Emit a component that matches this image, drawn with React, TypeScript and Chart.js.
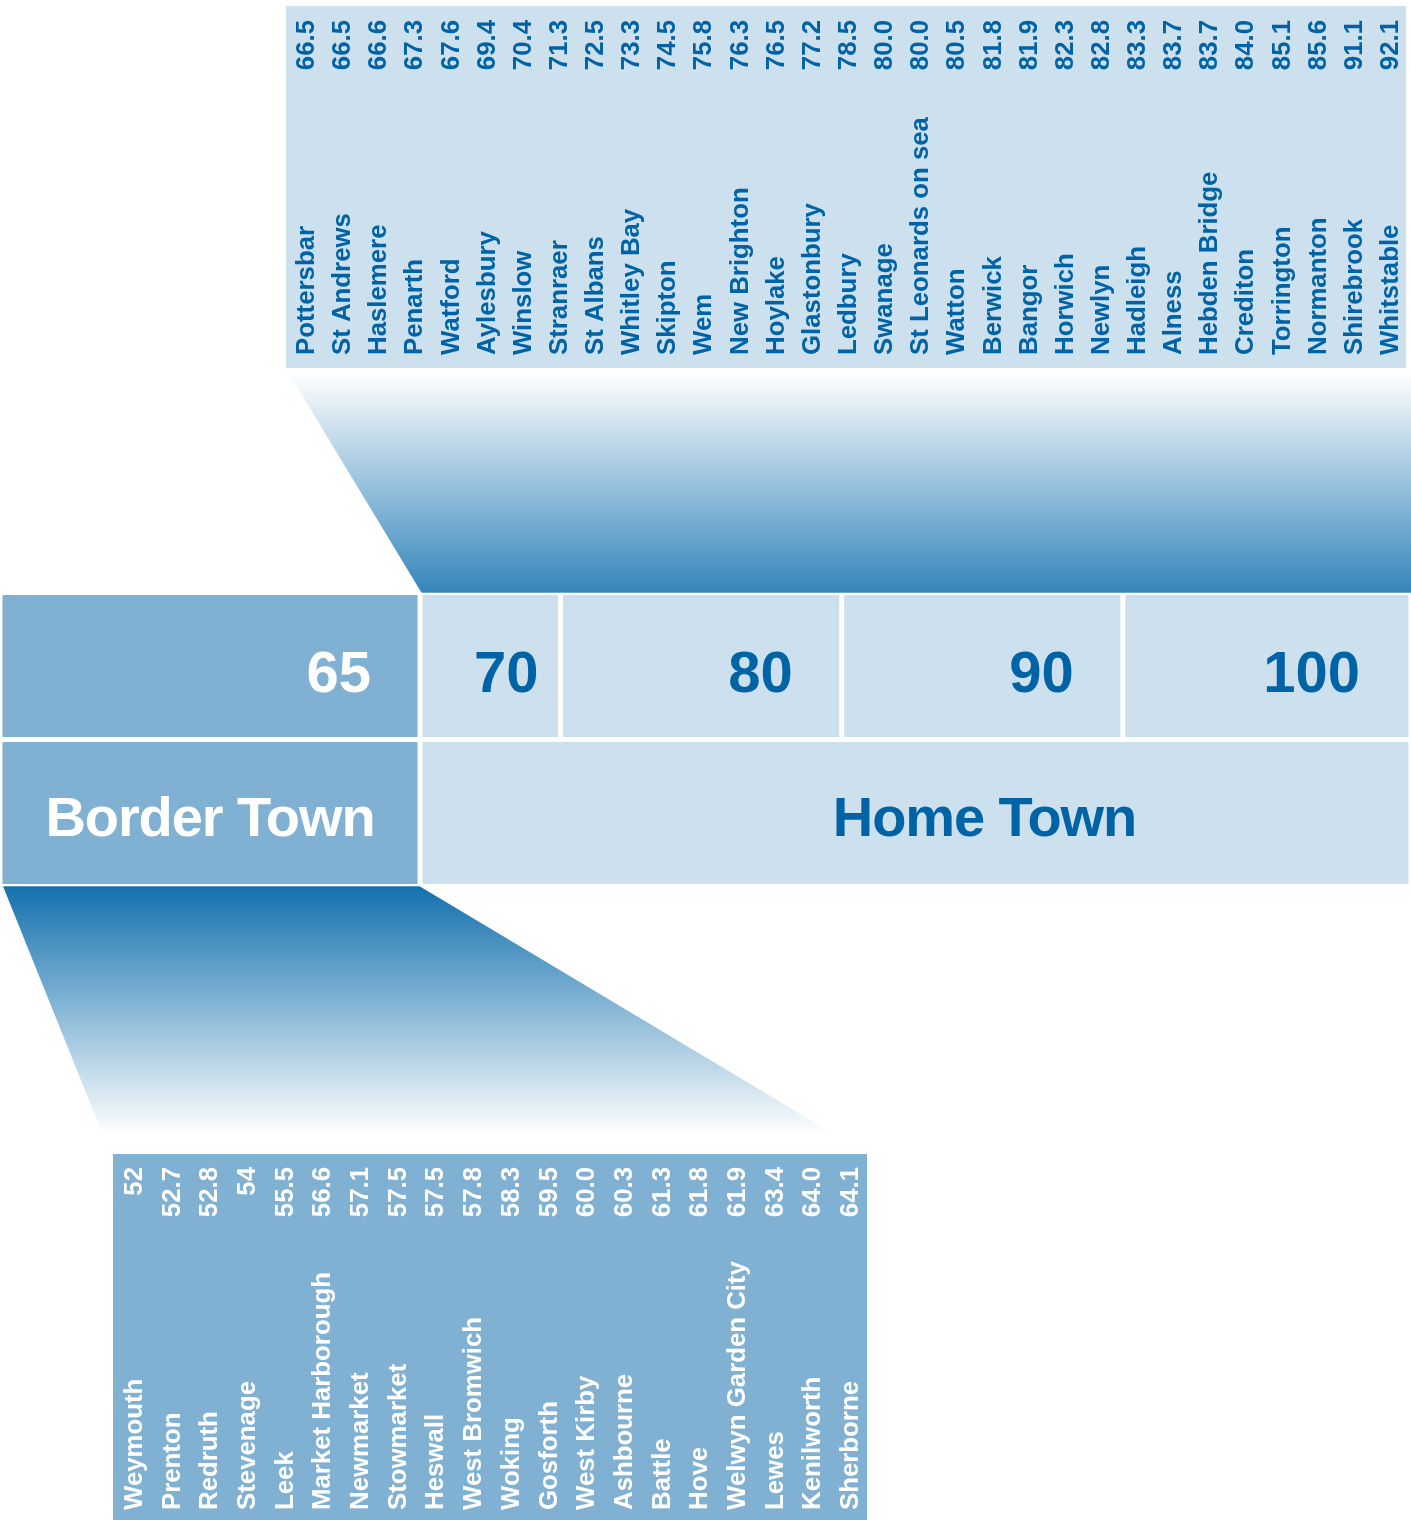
import { useEffect, useRef } from "react";
import { Chart, registerables } from "chart.js";

Chart.register(...registerables);

// Home Town side: towns above the 65 line, in ascending order
const homeTowns = [
  "Pottersbar", "St Andrews", "Haslemere", "Penarth", "Watford", "Aylesbury",
  "Winslow", "Stranraer", "St Albans", "Whitley Bay", "Skipton", "Wem",
  "New Brighton", "Hoylake", "Glastonbury", "Ledbury", "Swanage",
  "St Leonards on sea", "Watton", "Berwick", "Bangor", "Horwich", "Newlyn",
  "Hadleigh", "Alness", "Hebden Bridge", "Crediton", "Torrington",
  "Normanton", "Shirebrook", "Whitstable",
];
const homeValueLabels = [
  "66.5", "66.5", "66.6", "67.3", "67.6", "69.4", "70.4", "71.3", "72.5",
  "73.3", "74.5", "75.8", "76.3", "76.5", "77.2", "78.5", "80.0", "80.0",
  "80.5", "81.8", "81.9", "82.3", "82.8", "83.3", "83.7", "83.7", "84.0",
  "85.1", "85.6", "91.1", "92.1",
];

// Border Town side: towns below the 65 line
const borderTowns = [
  "Weymouth", "Prenton", "Redruth", "Stevenage", "Leek", "Market Harborough",
  "Newmarket", "Stowmarket", "Heswall", "West Bromwich", "Woking", "Gosforth",
  "West Kirby", "Ashbourne", "Battle", "Hove", "Welwyn Garden City", "Lewes",
  "Kenilworth", "Sherborne",
];
const borderValueLabels = [
  "52", "52.7", "52.8", "54", "55.5", "56.6", "57.1", "57.5", "57.5", "57.8",
  "58.3", "59.5", "60.0", "60.3", "61.3", "61.8", "61.9", "63.4", "64.0", "64.1",
];

// Scale band
const scaleTicks = [65, 70, 80, 90, 100];
const scaleMin = 50.06;
const scaleMax = 100.25;
const borderLimit = 65;
const groups = ["Border Town", "Home Town"];

const FONT = '"Liberation Sans", Arial, Helvetica, sans-serif';
const DARK = "#0063a6";
const LIGHT = "#cde0ed";
const MID = "#80b1d3";

// label placement inside the band (pixels)
const tickLabelInset = [49, 22, 49, 49, 44];
const captionShift = [0, 69];

function makeTable(
  canvas: HTMLCanvasElement,
  towns: string[],
  valueLabels: string[],
  bg: string,
  fg: string,
  nameY: number,
  valueY: number
) {
  return new Chart(canvas, {
    type: "bar",
    data: {
      labels: towns,
      datasets: [
        {
          data: valueLabels.map(Number),
          backgroundColor: "rgba(0,0,0,0)",
          borderWidth: 0,
        },
      ],
    },
    options: {
      responsive: false,
      animation: false,
      devicePixelRatio: 1,
      events: [],
      layout: { padding: 0 },
      plugins: { legend: { display: false }, tooltip: { enabled: false } },
      scales: {
        x: { type: "category", offset: true, display: false },
        y: { display: false, min: 0, max: 100 },
      },
    },
    plugins: [
      {
        id: "townTable",
        beforeDraw(chart: any) {
          const { ctx, width, height } = chart;
          ctx.save();
          ctx.fillStyle = bg;
          ctx.fillRect(0, 0, width, height);
          ctx.restore();
        },
        afterDatasetsDraw(chart: any) {
          const { ctx } = chart;
          const xs = chart.scales.x;
          ctx.save();
          ctx.font = `bold 25.8px ${FONT}`;
          ctx.fillStyle = fg;
          ctx.textBaseline = "alphabetic";
          towns.forEach((name, i) => {
            const bx = xs.getPixelForValue(i) + 10;
            ctx.save();
            ctx.translate(bx, nameY);
            ctx.rotate(-Math.PI / 2);
            ctx.textAlign = "left";
            ctx.fillText(name, 0, 0);
            ctx.restore();
            ctx.save();
            ctx.translate(bx, valueY);
            ctx.rotate(-Math.PI / 2);
            ctx.textAlign = "right";
            ctx.fillText(valueLabels[i], 0, 0);
            ctx.restore();
          });
          ctx.restore();
        },
      },
    ],
  } as any);
}

function makeBand(canvas: HTMLCanvasElement) {
  const segments = scaleTicks.map((t, i) => [
    i === 0 ? scaleMin : scaleTicks[i - 1],
    i === scaleTicks.length - 1 ? scaleMax : t,
  ]);
  const points = [
    ...segments.map((r) => ({ x: r, y: "scale" })),
    { x: [scaleMin, borderLimit], y: "town" },
    { x: [borderLimit, scaleMax], y: "town" },
  ];
  const colors = [
    ...segments.map((r) => (r[1] <= borderLimit ? MID : LIGHT)),
    MID,
    LIGHT,
  ];

  return new Chart(canvas, {
    type: "bar",
    data: {
      datasets: [
        {
          data: points,
          backgroundColor: colors,
          borderColor: "#ffffff",
          borderWidth: 2.8,
          borderSkipped: false,
          barPercentage: 1,
          categoryPercentage: 1,
        },
      ],
    },
    options: {
      indexAxis: "y",
      responsive: false,
      animation: false,
      devicePixelRatio: 1,
      events: [],
      layout: { padding: { top: 224.5, bottom: 266.5, left: 0, right: 0 } },
      plugins: { legend: { display: false }, tooltip: { enabled: false } },
      scales: {
        x: { type: "linear", min: scaleMin, max: scaleMax, display: false },
        y: { type: "category", labels: ["scale", "town"], offset: true, display: false },
      },
    },
    plugins: [
      {
        id: "funnels",
        beforeDatasetsDraw(chart: any) {
          const { ctx, chartArea: a } = chart;
          const xs = chart.scales.x;
          const right = chart.width;

          // upper funnel: from the Home Town table down to the 65+ band
          const topY = 4;
          const botY = a.top + 1;
          const g1 = ctx.createLinearGradient(0, topY, 0, botY);
          g1.addColorStop(0, "#ffffff");
          g1.addColorStop(1, "#3485bb");
          ctx.save();
          ctx.fillStyle = g1;
          ctx.beginPath();
          ctx.moveTo(288, topY);
          ctx.lineTo(right, topY);
          ctx.lineTo(right, botY);
          ctx.lineTo(xs.getPixelForValue(borderLimit) + 2, botY);
          ctx.closePath();
          ctx.fill();

          // lower funnel: from the Border Town box down to its table
          const y0 = a.bottom - 1.5;
          const y1 = 772;
          const g2 = ctx.createLinearGradient(0, y0, 0, 767);
          g2.addColorStop(0, "#1270ad");
          g2.addColorStop(1, "#ffffff");
          ctx.fillStyle = g2;
          ctx.beginPath();
          ctx.moveTo(xs.getPixelForValue(scaleMin) + 2.5, y0);
          ctx.lineTo(xs.getPixelForValue(borderLimit) - 2.5, y0);
          ctx.lineTo(844, y1);
          ctx.lineTo(105, y1);
          ctx.closePath();
          ctx.fill();
          ctx.restore();
        },
        afterDatasetsDraw(chart: any) {
          const { ctx } = chart;
          const xs = chart.scales.x;
          const ys = chart.scales.y;
          const scaleRow = ys.getPixelForValue(0);
          const townRow = ys.getPixelForValue(1);
          ctx.save();
          ctx.textBaseline = "alphabetic";
          ctx.font = `bold 58px ${FONT}`;
          ctx.textAlign = "right";
          scaleTicks.forEach((t, i) => {
            ctx.fillStyle = t <= borderLimit ? "#ffffff" : DARK;
            ctx.fillText(String(t), xs.getPixelForValue(t) - tickLabelInset[i], scaleRow + 26);
          });

          ctx.font = `bold 56px ${FONT}`;
          (ctx as any).letterSpacing = "-1.1px";
          ctx.textAlign = "center";
          const ranges = [
            [scaleMin, borderLimit],
            [borderLimit, scaleMax],
          ];
          groups.forEach((g, i) => {
            const cx = (xs.getPixelForValue(ranges[i][0]) + xs.getPixelForValue(ranges[i][1])) / 2 + captionShift[i];
            ctx.fillStyle = i === 0 ? "#ffffff" : DARK;
            ctx.fillText(g, cx, townRow + 23);
          });
          ctx.restore();
        },
      },
    ],
  } as any);
}

export default function App() {
  const topRef = useRef<HTMLCanvasElement>(null);
  const bandRef = useRef<HTMLCanvasElement>(null);
  const bottomRef = useRef<HTMLCanvasElement>(null);

  useEffect(() => {
    document.body.style.margin = "0";
    const charts: Chart[] = [];
    if (topRef.current)
      charts.push(makeTable(topRef.current, homeTowns, homeValueLabels, LIGHT, DARK, 349, 14));
    if (bandRef.current) charts.push(makeBand(bandRef.current));
    if (bottomRef.current)
      charts.push(makeTable(bottomRef.current, borderTowns, borderValueLabels, MID, "#ffffff", 356, 13));
    return () => charts.forEach((c) => c.destroy());
  }, []);

  return (
    <div style={{ position: "relative", width: 1411, height: 1520, overflow: "hidden", background: "#ffffff" }}>
      <canvas ref={topRef} width={1120} height={362} style={{ position: "absolute", left: 286, top: 6 }} />
      <canvas ref={bandRef} width={1411} height={785} style={{ position: "absolute", left: 0, top: 368 }} />
      <canvas ref={bottomRef} width={754} height={366} style={{ position: "absolute", left: 113, top: 1154 }} />
    </div>
  );
}
